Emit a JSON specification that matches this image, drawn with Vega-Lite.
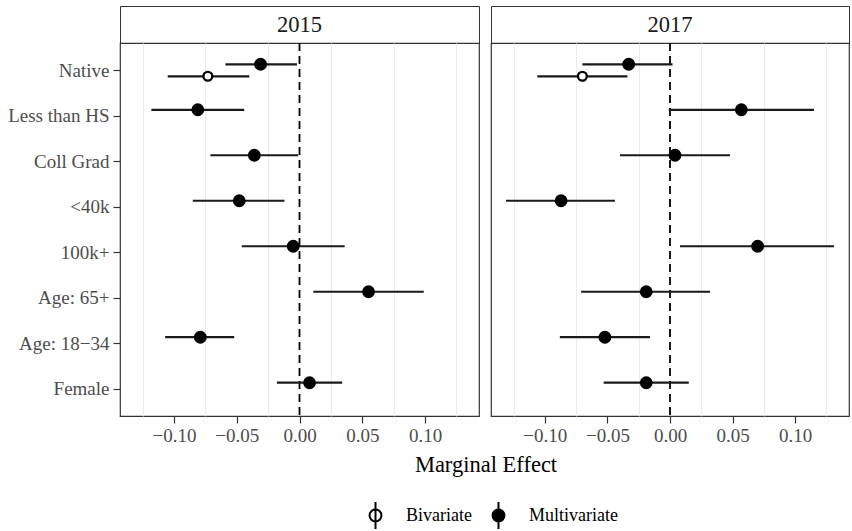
{
  "$schema": "https://vega.github.io/schema/vega-lite/v6.json",
  "padding": {"left": 7, "top": 5, "right": 2, "bottom": 2},
  "bounds": "flush",
  "columns": 2,
  "spacing": {"row": 0, "column": 12},
  "datasets": {
    "strips": [{"year": "2015"}, {"year": "2017"}],
    "zero": [{"x": 0}],
    "est": [
      {"year": "2015", "var": "Native", "model": "Multivariate", "est": -0.031, "lo": -0.059, "hi": -0.002},
      {"year": "2015", "var": "Native", "model": "Bivariate", "est": -0.073, "lo": -0.105, "hi": -0.040},
      {"year": "2015", "var": "Less than HS", "model": "Multivariate", "est": -0.081, "lo": -0.118, "hi": -0.044},
      {"year": "2015", "var": "Coll Grad", "model": "Multivariate", "est": -0.036, "lo": -0.071, "hi": -0.001},
      {"year": "2015", "var": "<40k", "model": "Multivariate", "est": -0.048, "lo": -0.085, "hi": -0.012},
      {"year": "2015", "var": "100k+", "model": "Multivariate", "est": -0.005, "lo": -0.046, "hi": 0.036},
      {"year": "2015", "var": "Age: 65+", "model": "Multivariate", "est": 0.055, "lo": 0.011, "hi": 0.099},
      {"year": "2015", "var": "Age: 18−34", "model": "Multivariate", "est": -0.079, "lo": -0.107, "hi": -0.052},
      {"year": "2015", "var": "Female", "model": "Multivariate", "est": 0.008, "lo": -0.018, "hi": 0.034},
      {"year": "2017", "var": "Native", "model": "Multivariate", "est": -0.033, "lo": -0.070, "hi": 0.002},
      {"year": "2017", "var": "Native", "model": "Bivariate", "est": -0.070, "lo": -0.106, "hi": -0.034},
      {"year": "2017", "var": "Less than HS", "model": "Multivariate", "est": 0.057, "lo": -0.001, "hi": 0.115},
      {"year": "2017", "var": "Coll Grad", "model": "Multivariate", "est": 0.004, "lo": -0.040, "hi": 0.048},
      {"year": "2017", "var": "<40k", "model": "Multivariate", "est": -0.087, "lo": -0.131, "hi": -0.044},
      {"year": "2017", "var": "100k+", "model": "Multivariate", "est": 0.070, "lo": 0.008, "hi": 0.131},
      {"year": "2017", "var": "Age: 65+", "model": "Multivariate", "est": -0.019, "lo": -0.071, "hi": 0.032},
      {"year": "2017", "var": "Age: 18−34", "model": "Multivariate", "est": -0.052, "lo": -0.088, "hi": -0.016},
      {"year": "2017", "var": "Female", "model": "Multivariate", "est": -0.019, "lo": -0.053, "hi": 0.015}
    ]
  },
  "config": {
    "font": "Liberation Serif",
    "view": {"stroke": "#333333", "strokeWidth": 1.2},
    "axis": {
      "labelFont": "Liberation Serif",
      "titleFont": "Liberation Serif",
      "labelFontSize": 19,
      "labelColor": "#4d4d4d",
      "tickColor": "#333333",
      "tickSize": 7,
      "tickWidth": 1.2,
      "labelPadding": 3,
      "domain": false,
      "titleFontWeight": "normal",
      "titleColor": "black"
    },
    "legend": {
      "orient": "none",
      "legendX": 241,
      "legendY": 495,
      "direction": "horizontal",
      "labelFont": "Liberation Serif",
      "labelFontSize": 18,
      "labelColor": "black",
      "symbolType": "M0,-1V1M-0.44,0A0.44,0.44,0,1,1,0.44,0A0.44,0.44,0,1,1,-0.44,0Z",
      "symbolSize": 729,
      "symbolStrokeColor": "black",
      "symbolStrokeWidth": 2,
      "labelOffset": 16,
      "columnPadding": 12
    }
  },
  "concat": [
    {
      "width": 359, "height": 37,
      "view": {"stroke": "#333333", "fill": "white"},
      "data": {"name": "strips"},
      "transform": [{"filter": "datum.year == '2015'"}],
      "mark": {"type": "text", "fontSize": 22.5, "font": "Liberation Serif", "color": "#1a1a1a", "baseline": "middle"},
      "encoding": {"text": {"field": "year", "type": "nominal"}}
    },
    {
      "width": 358, "height": 37,
      "view": {"stroke": "#333333", "fill": "white"},
      "data": {"name": "strips"},
      "transform": [{"filter": "datum.year == '2017'"}],
      "mark": {"type": "text", "fontSize": 22.5, "font": "Liberation Serif", "color": "#1a1a1a", "baseline": "middle"},
      "encoding": {"text": {"field": "year", "type": "nominal"}}
    },
    {
      "width": 359, "height": 373,
      "data": {"name": "est"},
      "transform": [{"filter": "datum.year == '2015'"}],
      "encoding": {
        "x": {
          "type": "quantitative",
          "scale": {"domain": [-0.143, 0.143], "nice": false, "zero": false},
          "axis": {
            "title": "Marginal Effect",
            "titleFontSize": 22.5,
            "titleX": 365.5,
            "titleAlign": "center",
            "titlePadding": 8,
            "values": [-0.125, -0.1, -0.075, -0.05, -0.025, 0, 0.025, 0.05, 0.075, 0.1, 0.125],
            "labelExpr": "abs(datum.value*20 - round(datum.value*20)) < 0.001 ? format(datum.value, '.2f') : ''",
            "grid": true,
            "gridColor": "#ebebeb",
            "gridWidth": 1.1,
            "gridOpacity": {"condition": {"test": "abs(datum.value*20 - round(datum.value*20)) < 0.001", "value": 0}, "value": 1},
            "tickOpacity": {"condition": {"test": "abs(datum.value*20 - round(datum.value*20)) < 0.001", "value": 1}, "value": 0}
          }
        },
        "y": {"field": "var", "type": "nominal", "scale": {"type": "point", "domain": ["Native", "Less than HS", "Coll Grad", "<40k", "100k+", "Age: 65+", "Age: 18−34", "Female"], "padding": 0.6}, "axis": {"title": null, "grid": false, "labelPadding": 4}}
      },
      "layer": [
        {
          "data": {"name": "zero"},
          "transform": [],
          "mark": {"type": "rule", "strokeDash": [8, 5], "strokeWidth": 1.8, "color": "black"},
          "encoding": {"x": {"field": "x", "type": "quantitative"}, "y": null}
        },
        {
          "transform": [{"filter": "datum.model == 'Multivariate'"}],
          "mark": {"type": "rule", "strokeWidth": 2.2, "color": "#1a1a1a", "yOffset": -6},
          "encoding": {"x": {"field": "lo", "type": "quantitative"}, "x2": {"field": "hi"}}
        },
        {
          "transform": [{"filter": "datum.model == 'Bivariate'"}],
          "mark": {"type": "rule", "strokeWidth": 2.2, "color": "#1a1a1a", "yOffset": 6},
          "encoding": {"x": {"field": "lo", "type": "quantitative"}, "x2": {"field": "hi"}}
        },
        {
          "transform": [{"filter": "datum.model == 'Multivariate'"}],
          "mark": {"type": "circle", "stroke": "black", "strokeWidth": 2, "opacity": 1, "size": 118, "yOffset": -6},
          "encoding": {
            "x": {"field": "est", "type": "quantitative"},
            "fill": {"field": "model", "type": "nominal", "scale": {"domain": ["Bivariate", "Multivariate"], "range": ["white", "black"]}, "legend": {"title": null}}
          }
        },
        {
          "transform": [{"filter": "datum.model == 'Bivariate'"}],
          "mark": {"type": "circle", "stroke": "black", "strokeWidth": 2.3, "opacity": 1, "size": 78, "yOffset": 6},
          "encoding": {
            "x": {"field": "est", "type": "quantitative"},
            "fill": {"field": "model", "type": "nominal", "scale": {"domain": ["Bivariate", "Multivariate"], "range": ["white", "black"]}, "legend": {"title": null}}
          }
        }
      ]
    },
    {
      "width": 358, "height": 373,
      "data": {"name": "est"},
      "transform": [{"filter": "datum.year == '2017'"}],
      "encoding": {
        "x": {
          "type": "quantitative",
          "scale": {"domain": [-0.143, 0.143], "nice": false, "zero": false},
          "axis": {
            "title": null,
            "values": [-0.125, -0.1, -0.075, -0.05, -0.025, 0, 0.025, 0.05, 0.075, 0.1, 0.125],
            "labelExpr": "abs(datum.value*20 - round(datum.value*20)) < 0.001 ? format(datum.value, '.2f') : ''",
            "grid": true,
            "gridColor": "#ebebeb",
            "gridWidth": 1.1,
            "gridOpacity": {"condition": {"test": "abs(datum.value*20 - round(datum.value*20)) < 0.001", "value": 0}, "value": 1},
            "tickOpacity": {"condition": {"test": "abs(datum.value*20 - round(datum.value*20)) < 0.001", "value": 1}, "value": 0}
          }
        },
        "y": {"field": "var", "type": "nominal", "scale": {"type": "point", "domain": ["Native", "Less than HS", "Coll Grad", "<40k", "100k+", "Age: 65+", "Age: 18−34", "Female"], "padding": 0.6}, "axis": null}
      },
      "layer": [
        {
          "data": {"name": "zero"},
          "transform": [],
          "mark": {"type": "rule", "strokeDash": [8, 5], "strokeWidth": 1.8, "color": "black"},
          "encoding": {"x": {"field": "x", "type": "quantitative"}, "y": null}
        },
        {
          "transform": [{"filter": "datum.model == 'Multivariate'"}],
          "mark": {"type": "rule", "strokeWidth": 2.2, "color": "#1a1a1a", "yOffset": -6},
          "encoding": {"x": {"field": "lo", "type": "quantitative"}, "x2": {"field": "hi"}}
        },
        {
          "transform": [{"filter": "datum.model == 'Bivariate'"}],
          "mark": {"type": "rule", "strokeWidth": 2.2, "color": "#1a1a1a", "yOffset": 6},
          "encoding": {"x": {"field": "lo", "type": "quantitative"}, "x2": {"field": "hi"}}
        },
        {
          "transform": [{"filter": "datum.model == 'Multivariate'"}],
          "mark": {"type": "circle", "stroke": "black", "strokeWidth": 2, "opacity": 1, "size": 118, "yOffset": -6},
          "encoding": {
            "x": {"field": "est", "type": "quantitative"},
            "fill": {"field": "model", "type": "nominal", "scale": {"domain": ["Bivariate", "Multivariate"], "range": ["white", "black"]}, "legend": {"title": null}}
          }
        },
        {
          "transform": [{"filter": "datum.model == 'Bivariate'"}],
          "mark": {"type": "circle", "stroke": "black", "strokeWidth": 2.3, "opacity": 1, "size": 78, "yOffset": 6},
          "encoding": {
            "x": {"field": "est", "type": "quantitative"},
            "fill": {"field": "model", "type": "nominal", "scale": {"domain": ["Bivariate", "Multivariate"], "range": ["white", "black"]}, "legend": {"title": null}}
          }
        }
      ]
    }
  ]
}
